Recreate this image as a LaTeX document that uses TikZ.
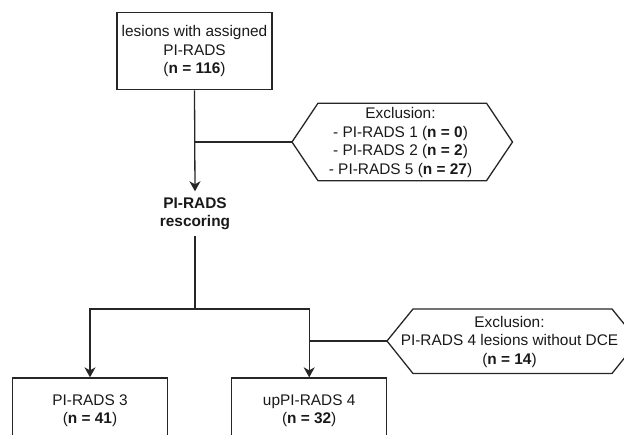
\documentclass[tikz,border=0pt]{standalone}
\usepackage{fontspec}
\setmainfont{Liberation Sans}
\usetikzlibrary{arrows.meta}
\begin{document}
\begin{tikzpicture}[x=1pt,y=-1pt,
  every node/.style={font=\fontsize{15.4}{18.4}\selectfont, align=center, text=black!90},
  line/.style={draw=black!85, line width=1.3pt},
  arr/.style={line, -{Stealth[length=10pt,width=11pt,inset=3pt]}},
  box/.style={line, rectangle, minimum width=155, minimum height=77, inner sep=0pt},
  hexa/.style={line, line join=miter}
]
\clip (0,0) rectangle (624,435);
\useasboundingbox (0,0) rectangle (624,435);

% top box
\node[box] (top) at (194.5,51.2) {lesions with assigned\\PI-RADS\\(\textbf{n = 116})};

% exclusion hexagon 1
\draw[hexa] (292,142) -- (318,103.2) -- (486.5,103.2) -- (512.5,142) -- (486.5,180.7) -- (318,180.7) -- cycle;
\coordinate (ex1tip) at (292,142);
\node (ex1) at (400.5,142.5) {Exclusion:\\- PI-RADS 1 (\textbf{n = 0})\\- PI-RADS 2 (\textbf{n = 2})\\- PI-RADS 5 (\textbf{n = 27})};

% rescoring label
\node[minimum height=44, inner sep=0pt] (resc) at (195,213.5) {\textbf{PI-RADS}\\\textbf{rescoring}};

% bottom boxes
\node[box, minimum height=66] (b3) at (90,411) {PI-RADS 3\\(\textbf{n = 41})};
\node[box, minimum height=66] (b4) at (309.2,411) {upPI-RADS 4\\(\textbf{n = 32})};

% exclusion hexagon 2
\draw[hexa] (387,341) -- (413,309) -- (612,309) -- (638,341) -- (612,373.5) -- (413,373.5) -- cycle;
\coordinate (ex2tip) at (387,341);
\node (ex2) at (509.5,342) {Exclusion:\\PI-RADS 4 lesions without DCE\\(\textbf{n = 14})};

% connectors
\draw[arr] (top.south) -- (resc.north);
\draw[line] (top.south |- ex1tip) -- (ex1tip);
\coordinate (split) at (195,309);
\draw[line] (resc.south) -- (split);
\draw[arr] (split) -| (b3.north);
\draw[arr] (split) -| (b4.north);
\draw[line] (b4.north |- ex2tip) -- (ex2tip);
\end{tikzpicture}
\end{document}
